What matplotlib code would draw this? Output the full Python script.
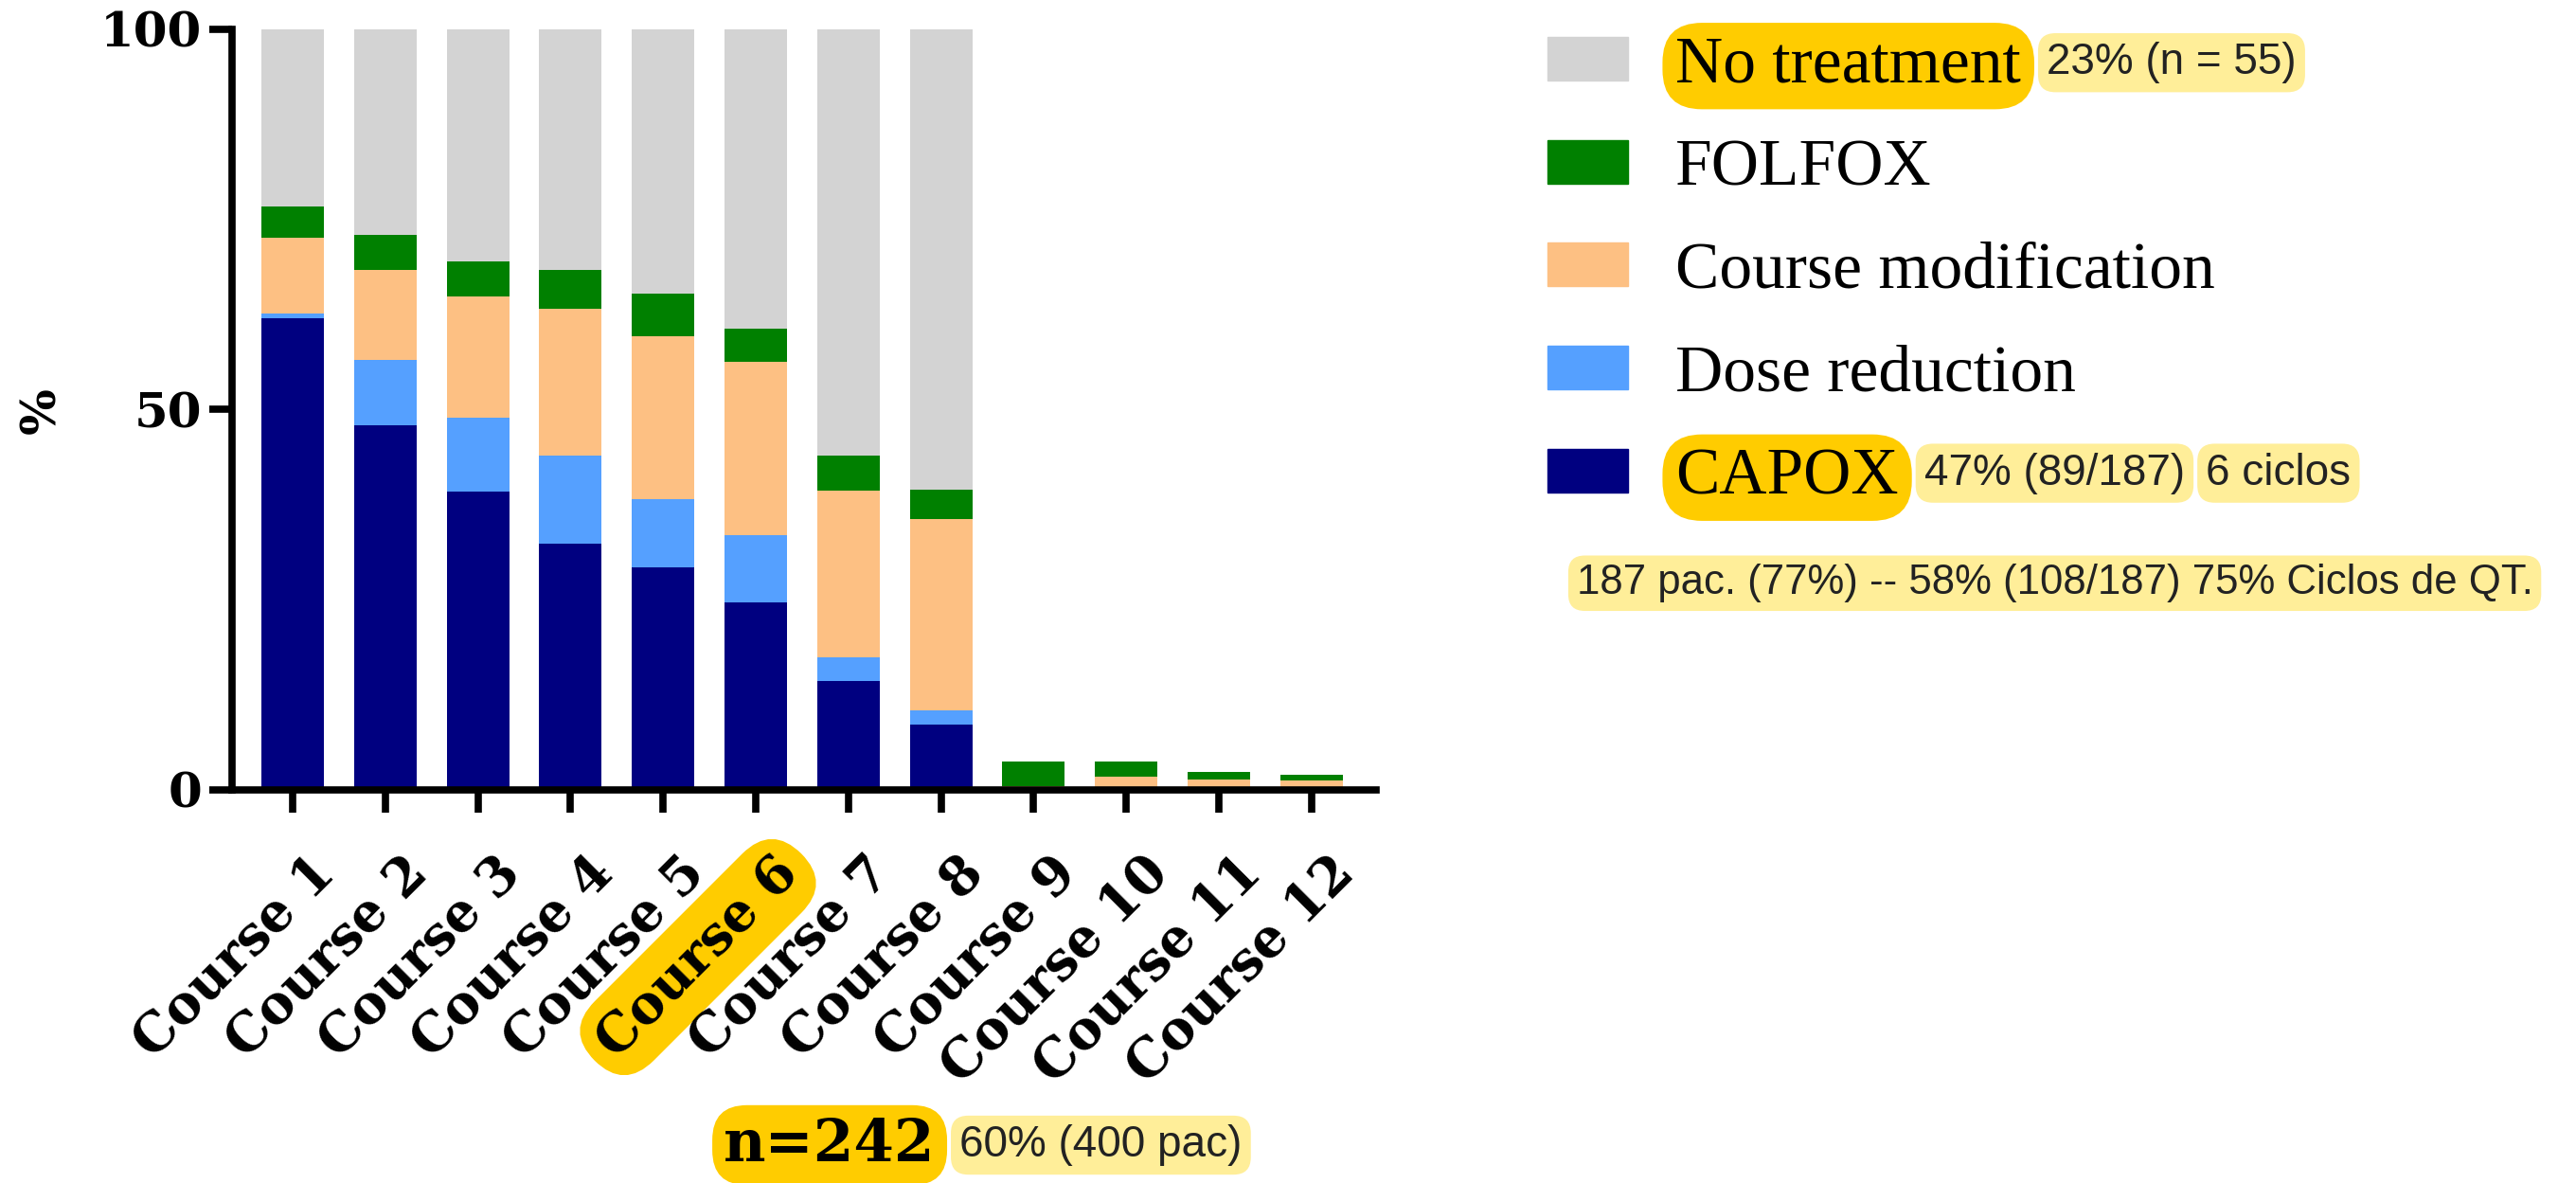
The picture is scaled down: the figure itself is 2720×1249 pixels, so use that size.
import matplotlib
matplotlib.use('Agg')
import matplotlib.pyplot as plt
import matplotlib.transforms as mtransforms
from matplotlib.patches import Patch
import numpy as np

courses = ['Course 1', 'Course 2', 'Course 3', 'Course 4', 'Course 5', 'Course 6',
           'Course 7', 'Course 8', 'Course 9', 'Course 10', 'Course 11', 'Course 12']

capox = [62.0, 47.9, 39.2, 32.4, 29.3, 24.6, 14.3, 8.6, 0, 0, 0, 0]
dose_red = [0.6, 8.6, 9.7, 11.6, 8.9, 8.9, 3.1, 1.9, 0, 0, 0, 0]
course_mod = [10.0, 11.9, 16.0, 19.2, 21.5, 22.8, 21.9, 25.1, 0.5, 1.8, 1.35, 1.2]
folfox = [4.1, 4.6, 4.6, 5.2, 5.6, 4.4, 4.6, 3.9, 3.2, 1.9, 1.05, 0.8]
no_treat = [23.3, 27.0, 30.5, 31.6, 34.7, 39.3, 56.1, 60.5, 0, 0, 0, 0]

series = [('CAPOX', capox, '#000080'),
          ('Dose reduction', dose_red, '#55A0FF'),
          ('Course modification', course_mod, '#FDC083'),
          ('FOLFOX', folfox, '#008000'),
          ('No treatment', no_treat, '#D3D3D3')]

GOLD = '#FFCC00'
PALE = '#FFEE99'

fig = plt.figure(figsize=(27.2, 12.49), dpi=100)
ax = fig.add_axes([0.0901, 0.3323, 0.4441, 0.6429])

x = np.arange(len(courses))
bottom = np.zeros(len(courses))
for name, vals, col in series:
    ax.bar(x, vals, width=0.675, bottom=bottom, color=col, linewidth=0)
    bottom += np.array(vals)

ax.set_xlim(-0.655, 11.70)
ax.set_ylim(0, 100)
ax.set_yticks([0, 50, 100])

for s in ['top', 'right']:
    ax.spines[s].set_visible(False)
for s in ['left', 'bottom']:
    ax.spines[s].set_linewidth(5.5)

ax.tick_params(axis='both', length=17, width=5.5, pad=6)
ax.tick_params(axis='x', pad=26)
ax.set_yticklabels(['0', '50', '100'], fontfamily='DejaVu Serif',
                   fontweight='bold', fontsize=37)
ax.set_xticks(x)
ax.set_xticklabels(courses, fontfamily='DejaVu Serif', fontweight='bold',
                   fontsize=40, rotation=45, ha='right', rotation_mode='anchor')
shift = mtransforms.ScaledTranslation(17 / 100, 0, fig.dpi_scale_trans)
for lab in ax.get_xticklabels():
    lab.set_transform(lab.get_transform() + shift)
ax.get_xticklabels()[5].set_bbox(dict(boxstyle='round,pad=0.3,rounding_size=0.8',
                                      fc=GOLD, ec='none'))

fig.text(0.0165, 0.653, '%', rotation=90, ha='center', va='center',
         family='DejaVu Serif', fontweight='bold', fontsize=37)

# legend, top to bottom
handles = [Patch(color=col, label=name) for name, vals, col in series[::-1]]
leg = fig.legend(handles=handles, loc='upper left', bbox_to_anchor=(0.6007, 0.9696),
                 frameon=False, prop={'family': 'Liberation Serif', 'size': 50},
                 handlelength=1.22, handleheight=0.64, handletextpad=0.73,
                 labelspacing=0.65, borderpad=0, borderaxespad=0)
texts = leg.get_texts()
rb = dict(boxstyle='round,pad=0.2,rounding_size=0.6', fc=GOLD, ec='none')
texts[0].set_bbox(rb)
texts[4].set_bbox(rb)

W, H = fig.bbox.width, fig.bbox.height

note = dict(boxstyle='round,pad=0.2,rounding_size=0.4', fc=PALE, ec='none')
nf = {'family': 'Liberation Sans', 'size': 33, 'color': '#222222'}
npad = 0.2 * 33 * 100 / 72


def after(artist, s, y):
    # put a note box right after the given text (bbox included)
    fig.canvas.draw()
    bb = artist.get_bbox_patch().get_window_extent(fig.canvas.get_renderer())
    return fig.text((bb.x1 + 4 + npad) / W, y, s, va='center', bbox=note, **nf)


after(texts[0], '23% (n = 55)', 0.947)
t47 = after(texts[4], '47% (89/187)', 0.600)
after(t47, '6 ciclos', 0.600)
fig.text(0.612, 0.507, '187 pac. (77%) -- 58% (108/187) 75% Ciclos de QT.',
         va='center', bbox=note, family='Liberation Sans', size=31.5, color='#222222')
n242 = fig.text(0.281, 0.032, 'n=242', va='center', family='DejaVu Serif',
                fontweight='bold', fontsize=44,
                bbox=dict(boxstyle='round,pad=0.2,rounding_size=0.6', fc=GOLD, ec='none'))
after(n242, '60% (400 pac)', 0.032)

fig.savefig('out.png', dpi=100)
